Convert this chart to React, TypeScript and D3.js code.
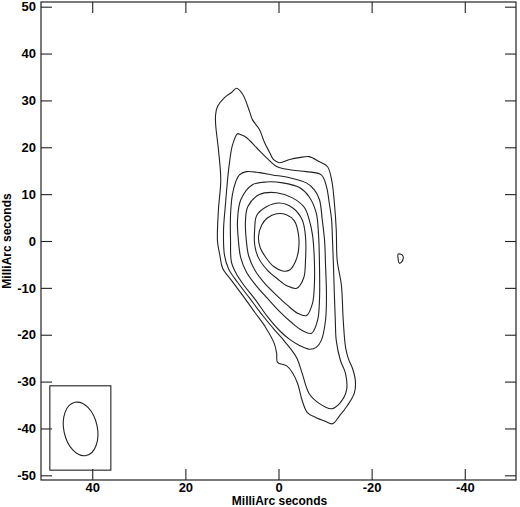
import React, { useEffect, useRef } from "react";
import * as d3 from "d3";

type Pt = [number, number];

// tick values (MilliArc seconds)
const xTicks = [40, 20, 0, -20, -40];
const yTicks = [-50, -40, -30, -20, -10, 0, 10, 20, 30, 40, 50];

// contour levels, outermost first, as [x, y] in mas
const contour1: Pt[] = [
  [9.0, 32.6], [7.7, 31.3], [6.2, 27.6], [5.6, 25.9], [4.1, 23.8], [3.0, 21.0],
  [1.9, 18.9], [1.1, 17.4], [-0.2, 16.7], [-2.4, 17.4], [-4.5, 17.8], [-6.6, 18.0],
  [-8.8, 16.9], [-10.5, 15.9], [-11.4, 13.1], [-12.0, 8.1], [-12.4, 2.4], [-12.6, -4.1],
  [-13.5, -9.4], [-13.9, -16.9], [-14.4, -22.7], [-15.0, -25.1], [-15.9, -27.2],
  [-16.5, -29.8], [-16.3, -32.4], [-14.8, -35.1], [-13.1, -37.3], [-11.6, -39.0],
  [-9.9, -38.4], [-8.1, -37.7], [-6.2, -36.6], [-5.1, -34.1], [-4.1, -30.4],
  [-3.0, -28.1], [-1.7, -26.6], [0.2, -25.9], [0.4, -24.0], [0.9, -21.9], [2.8, -18.4],
  [5.1, -15.2], [7.7, -11.6], [10.1, -8.4], [12.0, -5.8], [12.6, -3.0], [13.1, 0],
  [12.9, 6.6], [12.4, 13.1], [12.9, 19.5], [13.5, 24.9], [13.5, 27.0], [13.1, 28.7],
  [11.6, 30.6], [10.1, 31.7],
];

const contour2: Pt[] = [
  [8.8, 22.9], [8.1, 22.7], [6.9, 22.1], [4.7, 19.9], [2.6, 17.8], [0.4, 15.9],
  [-2.4, 15.2], [-6.0, 14.8], [-9.2, 14.1], [-10.3, 11.6], [-10.9, 8.1], [-11.4, 4.5],
  [-11.6, 0], [-11.8, -5.1], [-12.0, -11.6], [-12.2, -16.9], [-12.4, -21.2],
  [-13.3, -25.5], [-14.4, -28.3], [-14.6, -31.9], [-13.1, -34.7], [-11.4, -35.8],
  [-8.8, -34.7], [-6.6, -32.6], [-5.1, -28.3], [-3.9, -24.9], [-1.3, -21.4],
  [0.9, -18.9], [3.4, -15.9], [6.2, -12.2], [8.8, -8.8], [10.7, -6.0], [11.6, -3.0],
  [11.8, 2.4], [11.4, 7.7], [10.9, 13.5], [10.5, 16.9], [9.9, 20.4],
];

const contour3: Pt[] = [
  [9.9, 9.9], [9.2, 12.6], [8.4, 14.1], [6.9, 14.8], [4.1, 14.6], [1.3, 14.1],
  [-2.4, 13.5], [-6.0, 12.4], [-7.7, 10.9], [-8.8, 8.8], [-9.4, 4.5], [-9.9, 0],
  [-10.1, -5.1], [-10.3, -11.6], [-10.1, -16.9], [-9.2, -21.2], [-8.1, -22.7],
  [-6.6, -23.1], [-4.5, -22.3], [-2.4, -21.0], [-0.2, -19.1], [2.4, -16.1],
  [4.9, -12.6], [7.3, -9.6], [9.0, -7.1], [10.1, -4.5], [10.3, 0], [10.3, 5.6],
];

const contour4: Pt[] = [
  [8.8, 4.5], [8.1, 8.8], [5.6, 12.0], [2.6, 12.6], [-0.9, 12.4], [-4.5, 11.4],
  [-6.6, 9.4], [-8.1, 6.0], [-8.6, 1.3], [-8.8, -5.1], [-8.8, -12.6], [-8.4, -16.9],
  [-7.1, -19.7], [-5.1, -19.1], [-2.8, -17.4], [-0.2, -15.0], [2.4, -12.2],
  [4.9, -9.4], [6.9, -6.6], [8.1, -3.6], [8.6, 0],
];

const contour5: Pt[] = [
  [7.1, 4.1], [6.6, 7.3], [4.1, 9.9], [0.4, 10.3], [-3.0, 9.2], [-5.6, 7.1],
  [-6.6, 4.5], [-7.3, 1.3], [-7.7, -4.1], [-7.7, -9.4], [-7.3, -13.3], [-6.0, -15.9],
  [-4.1, -15.4], [-1.9, -13.7], [0.4, -11.6], [3.0, -9.0], [5.1, -6.2], [6.4, -3.2],
  [6.9, 0],
];

const contour6: Pt[] = [
  [5.1, 2.8], [4.7, 5.4], [2.6, 7.3], [-0.2, 8.1], [-3.0, 7.1], [-5.1, 4.5],
  [-5.8, 0.9], [-5.8, -4.1], [-5.4, -7.9], [-3.9, -10.1], [-1.9, -9.6], [0.2, -8.1],
  [2.4, -6.2], [4.3, -3.6], [5.1, -0.9],
];

const contour7: Pt[] = [
  [4.3, 0.9], [3.6, 3.4], [2.4, 4.9], [0.4, 5.8], [-1.7, 5.6], [-3.4, 4.3],
  [-4.3, 1.3], [-4.3, -1.9], [-3.6, -4.5], [-2.4, -6.2], [-0.9, -6.4], [1.1, -5.4],
  [2.8, -3.4], [3.9, -1.5],
];

const islet: Pt[] = [
  [-25.7, -2.8], [-26.6, -3.0], [-26.8, -3.6], [-26.4, -4.5], [-25.9, -4.7], [-25.7, -3.9],
];

const contours = [contour1, contour2, contour3, contour4, contour5, contour6, contour7, islet];

// restoring beam (mas, degrees) and its box corners
const beam = { x: 42.5, y: -40.1, major: 5.8, minor: 3.6, pa: 12 };
const beamBox = { x0: 49.1, x1: 36.0, y0: -30.9, y1: -48.9 };

const W = 520;
const H = 507;
const left = 41;
const right = 516;
const top = 2;
const bottom = 480;
const font = "'Liberation Sans', Arial, Helvetica, sans-serif";

const App = () => {
  const ref = useRef<SVGSVGElement>(null);

  useEffect(() => {
    const svg = d3.select(ref.current);
    svg.selectAll("*").remove();

    const x = d3.scaleLinear().domain([51, -51]).range([left, right]);
    const y = d3.scaleLinear().domain([-51, 51]).range([bottom, top]);

    const line = d3
      .line<Pt>()
      .x((d) => x(d[0]))
      .y((d) => y(d[1]))
      .curve(d3.curveCatmullRomClosed.alpha(0.5));

    svg
      .append("g")
      .attr("fill", "none")
      .attr("stroke", "#222")
      .attr("stroke-width", 1.1)
      .selectAll("path")
      .data(contours)
      .join("path")
      .attr("d", (d) => line(d));

    // beam box + ellipse
    svg
      .append("rect")
      .attr("x", x(beamBox.x0))
      .attr("y", y(beamBox.y0))
      .attr("width", x(beamBox.x1) - x(beamBox.x0))
      .attr("height", y(beamBox.y1) - y(beamBox.y0))
      .attr("fill", "none")
      .attr("stroke", "#222")
      .attr("stroke-width", 1.1);

    svg
      .append("ellipse")
      .attr("cx", 0)
      .attr("cy", 0)
      .attr("rx", x(0) - x(beam.minor))
      .attr("ry", y(0) - y(beam.major))
      .attr("transform", `translate(${x(beam.x)},${y(beam.y)}) rotate(${-beam.pa})`)
      .attr("fill", "none")
      .attr("stroke", "#222")
      .attr("stroke-width", 1.1);

    const styleAxis = (g: any) => {
      g.select(".domain").remove();
      g.selectAll(".tick line").attr("stroke", "#222").attr("stroke-width", 1.1);
      g.selectAll(".tick text")
        .attr("fill", "#000")
        .style("font-family", font)
        .style("font-weight", "bold")
        .style("font-size", "13px");
    };

    const plain = (d: any) => String(d);

    svg
      .append("g")
      .attr("transform", `translate(0,${bottom})`)
      .call(d3.axisBottom(x).tickValues(xTicks).tickSize(-11).tickPadding(3).tickFormat(plain))
      .call(styleAxis);

    svg
      .append("g")
      .attr("transform", `translate(0,${top})`)
      .call(d3.axisTop(x).tickValues(xTicks).tickSize(-11).tickFormat(() => ""))
      .call(styleAxis);

    svg
      .append("g")
      .attr("transform", `translate(${left},0)`)
      .call(d3.axisLeft(y).tickValues(yTicks).tickSize(-11).tickPadding(5).tickFormat(plain))
      .call(styleAxis);

    svg
      .append("g")
      .attr("transform", `translate(${right},0)`)
      .call(d3.axisRight(y).tickValues(yTicks).tickSize(-11).tickFormat(() => ""))
      .call(styleAxis);

    svg
      .append("rect")
      .attr("x", left)
      .attr("y", top)
      .attr("width", right - left)
      .attr("height", bottom - top)
      .attr("fill", "none")
      .attr("stroke", "#222")
      .attr("stroke-width", 1.2);

    svg
      .append("text")
      .attr("x", (left + right) / 2 + 1)
      .attr("y", 505)
      .attr("text-anchor", "middle")
      .style("font-family", font)
      .style("font-weight", "bold")
      .style("font-size", "12px")
      .text("MilliArc seconds");

    svg
      .append("text")
      .attr("transform", `translate(11,${(top + bottom) / 2}) rotate(-90)`)
      .attr("text-anchor", "middle")
      .style("font-family", font)
      .style("font-weight", "bold")
      .style("font-size", "12px")
      .text("MilliArc seconds");
  }, []);

  return (
    <svg
      ref={ref}
      width={W}
      height={H}
      style={{ position: "absolute", left: 0, top: 0, background: "#fff" }}
    />
  );
};

export default App;
